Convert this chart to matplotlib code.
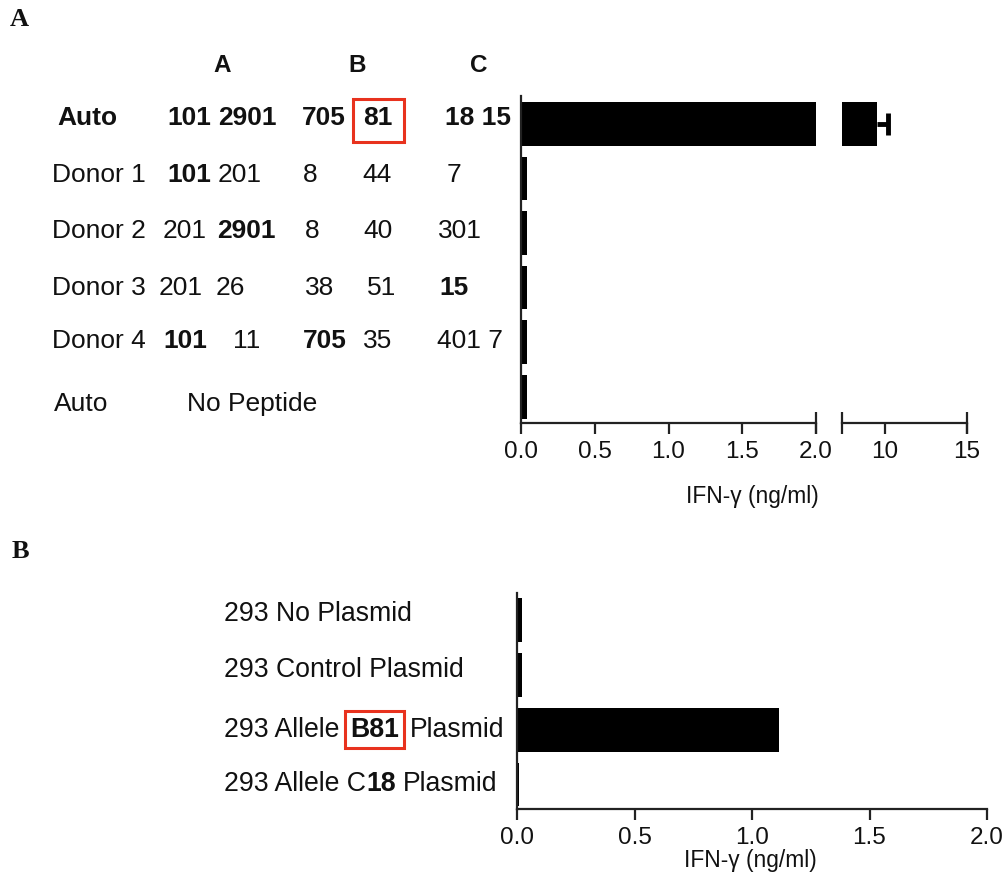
import matplotlib
matplotlib.use("Agg")
import matplotlib.pyplot as plt
from matplotlib.transforms import blended_transform_factory
from matplotlib.patches import Rectangle

plt.rcParams['font.family'] = ['Liberation Sans', 'DejaVu Sans']

# ---------------- data ----------------
# Panel A
rows_a = ["Auto", "Donor 1", "Donor 2", "Donor 3", "Donor 4", "Auto"]
row_bold_a = [True, False, False, False, False, False]
hla_headers = ["A", "B", "C"]
hla_text_a = [
    ["101", "2901", "705", "81", "18 15"],
    ["101", "201", "8", "44", "7"],
    ["201", "2901", "8", "40", "301"],
    ["201", "26", "38", "51", "15"],
    ["101", "11", "705", "35", "401 7"],
    ["No Peptide"],
]
hla_bold_a = [
    [True, True, True, True, True],
    [True, False, False, False, False],
    [False, True, False, False, False],
    [False, False, False, False, True],
    [True, False, True, False, False],
    [False],
]
ifn_a = [9.57, 0.04, 0.04, 0.04, 0.04, 0.04]
err_a = [0.63, 0.0, 0.0, 0.0, 0.0, 0.0]
ticks_a_left = [0.0, 0.5, 1.0, 1.5, 2.0]
ticks_a_right = [10, 15]

# Panel B
labels_b = [
    [("293 No Plasmid", False)],
    [("293 Control Plasmid", False)],
    [("293 Allele ", False), ("B81", True), (" Plasmid", False)],
    [("293 Allele C", False), ("18", True), (" Plasmid", False)],
]
ifn_b = [0.02, 0.02, 1.115, 0.01]
ticks_b = [0.0, 0.5, 1.0, 1.5, 2.0]
xlabel = "IFN-\u03b3 (ng/ml)"

# ---------------- layout ----------------
W, H = 1008, 889
fig = plt.figure(figsize=(W / 100, H / 100), dpi=100)
TXT = "#111111"
RED = "#e8321e"
LW = 1.6
FSA = 19
FSB = 19.2
TFS = 17.5


def fx(px):
    return px / W


def fy(py):
    return 1 - py / H


def style_axis(ax):
    for s in ["top", "right"]:
        ax.spines[s].set_visible(False)
    for s in ["left", "bottom"]:
        ax.spines[s].set_linewidth(LW)
        ax.spines[s].set_color("#222222")
    ax.tick_params(axis="x", length=8, width=LW, labelsize=TFS, pad=5,
                   colors="#222222", labelcolor=TXT)
    ax.set_yticks([])


# Panel A axes (broken x axis)
axL = fig.add_axes([fx(521), fy(423), fx(816) - fx(521), fy(96) - fy(423)])
axR = fig.add_axes([fx(842), fy(423), fx(967) - fx(842), fy(96) - fy(423)])
ypos_a = list(range(len(rows_a)))
for ax in (axL, axR):
    style_axis(ax)
    ax.barh(ypos_a, ifn_a, height=0.8, color="black", edgecolor="none")
    ax.set_ylim(5.48, -0.51)
axL.set_xlim(0, 2.0)
axL.set_xticks(ticks_a_left)
axL.set_xticklabels([f"{t:.1f}" for t in ticks_a_left])
axR.set_xlim(7.42, 15)
axR.set_xticks(ticks_a_right)
axR.set_xticklabels([str(t) for t in ticks_a_right])
axR.spines["left"].set_visible(False)
eb = axR.errorbar(ifn_a[0], 0, xerr=[[0], [err_a[0]]], fmt="none", ecolor="black",
                  elinewidth=3.5, capsize=8, capthick=3.5)
for cap in eb[1]:
    if abs(float(cap.get_xdata()[0]) - ifn_a[0]) < 1e-9:
        cap.set_visible(False)
# end caps of the axis segments
for ax, locs in ((axL, [2.0]), (axR, [7.42, 15])):
    ax.xaxis.remove_overlapping_locs = False
    ax.set_xticks(locs, minor=True)
    ax.tick_params(axis="x", which="minor", direction="inout", length=16,
                   width=LW, colors="#222222")

# Panel A table text
transA = blended_transform_factory(fig.transFigure, axL.transData)
row_label_x = [57, 52, 52, 52, 52, 54]
cell_x = [
    [167, 218, 302, 363, 445],
    [167, 218, 303, 362, 447],
    [163, 217, 305, 363, 438],
    [159, 216, 305, 367, 439],
    [163, 233, 303, 363, 437],
    [187],
]
row_dy = [-0.1, -0.07, -0.03, 0.0, -0.02, 0.13]
for i, name in enumerate(rows_a):
    y = ypos_a[i] + row_dy[i]
    fig.text(fx(row_label_x[i]), y, name, transform=transA, ha="left", va="center",
             fontsize=FSA, color=TXT, fontweight="bold" if row_bold_a[i] else "normal")
    for s, b, x in zip(hla_text_a[i], hla_bold_a[i], cell_x[i]):
        fig.text(fx(x), y, s, transform=transA, ha="left", va="center",
                 fontsize=FSA, color=TXT, fontweight="bold" if b else "normal")
for h, x in zip(hla_headers, [222, 357, 479]):
    fig.text(fx(x), fy(66), h, ha="center", va="center", fontsize=17.5,
             fontweight="bold", color=TXT)
fig.add_artist(Rectangle((fx(353), fy(142)), fx(404) - fx(353), fy(99) - fy(142),
                         transform=fig.transFigure, fill=False, edgecolor=RED, lw=2.2))

fig.text(fx(752), fy(497), xlabel, ha="center", va="center", fontsize=16.4, color=TXT)

# Panel letters
fig.text(fx(10), fy(19), "A", ha="left", va="center", fontsize=19, fontweight="bold",
         family=["Liberation Serif", "DejaVu Serif"], color=TXT)
fig.text(fx(12), fy(551), "B", ha="left", va="center", fontsize=19, fontweight="bold",
         family=["Liberation Serif", "DejaVu Serif"], color=TXT)

# Panel B axes
axB = fig.add_axes([fx(517), fy(809), fx(987) - fx(517), fy(593) - fy(809)])
style_axis(axB)
ypos_b = list(range(len(labels_b)))
axB.barh(ypos_b, ifn_b, height=0.8, color="black", edgecolor="none")
axB.set_xlim(0, 2.0)
axB.set_ylim(3.45, -0.5)
axB.set_xticks(ticks_b)
axB.set_xticklabels([f"{t:.1f}" for t in ticks_b])

transB = blended_transform_factory(fig.transFigure, axB.transData)
space_pt = 0.278 * FSB
label_dy = [-0.12, -0.1, 0.0, 0.0]
for i, parts in enumerate(labels_b):
    s, b = parts[0]
    prev = s
    t = fig.text(fx(224), ypos_b[i] + label_dy[i], s.rstrip(), transform=transB,
                 ha="left", va="center", fontsize=FSB, color=TXT,
                 fontweight="bold" if b else "normal")
    for s, b in parts[1:]:
        gap = space_pt if (prev.endswith(" ") or s.startswith(" ")) else 0
        if s == "B81" or prev == "B81":
            gap += 2.5
        kw = {}
        if s == "B81":
            kw["bbox"] = dict(boxstyle="square,pad=0.2", fc="none", ec=RED, lw=2.2)
        t = axB.annotate(s.strip(), xy=(1, 0), xycoords=t, xytext=(gap, 0),
                         textcoords="offset points", ha="left", va="bottom",
                         fontsize=FSB, color=TXT, annotation_clip=False,
                         fontweight="bold" if b else "normal", **kw)
        prev = s

fig.text(fx(750), fy(861), xlabel, ha="center", va="center", fontsize=16.4, color=TXT)

fig.savefig("out.png", dpi=100, facecolor="white")
